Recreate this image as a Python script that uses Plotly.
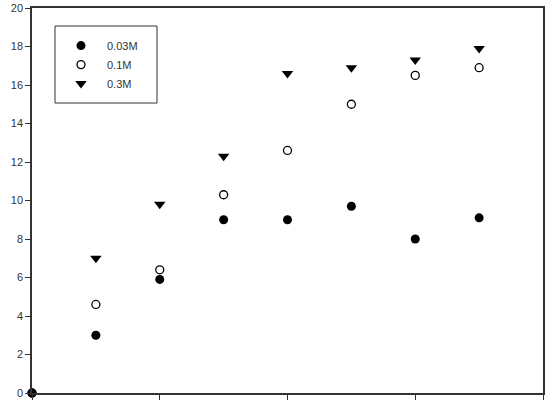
import plotly.graph_objects as go

x_vals = [0, 1, 2, 3, 4, 5, 6, 7]
s003 = [0, 3.0, 5.9, 9.0, 9.0, 9.7, 8.0, 9.1]
s01 = [0, 4.6, 6.4, 10.3, 12.6, 15.0, 16.5, 16.9]
s03 = [0, 7.0, 9.8, 12.3, 16.6, 16.9, 17.3, 17.9]
names = ["0.03M", "0.1M", "0.3M"]
y_ticks = list(range(0, 21, 2))

fig = go.Figure()
fig.add_trace(go.Scatter(x=x_vals, y=s003, mode="markers", name=names[0],
                         marker=dict(symbol="circle", size=9, color="black"), cliponaxis=False))
fig.add_trace(go.Scatter(x=x_vals, y=s01, mode="markers", name=names[1],
                         marker=dict(symbol="circle-open", size=8, color="black", line=dict(width=1.3)), cliponaxis=False))
fig.add_trace(go.Scatter(x=x_vals[1:], y=s03[1:], mode="markers", name=names[2],
                         marker=dict(symbol="triangle-down", size=10, color="black"), cliponaxis=False))

fig.add_shape(type="rect", xref="paper", yref="paper", x0=0.045, x1=0.2446, y0=0.7532, y1=0.9532,
              line=dict(color="#333", width=1), fillcolor="rgba(0,0,0,0)")

fig.update_layout(
    width=551, height=406,
    margin=dict(l=32, r=8, t=8, b=13, autoexpand=False),
    paper_bgcolor="white", plot_bgcolor="white",
    font=dict(family="Liberation Sans, Arial, sans-serif", size=11, color="#333"),
    showlegend=True,
    legend=dict(x=0.045, y=0.940, xanchor="left", yanchor="top",
                borderwidth=0, bgcolor="rgba(0,0,0,0)", itemwidth=42,
                font=dict(size=11, color="#333"), tracegroupgap=0),
)
fig.update_xaxes(range=[0, 8], tickvals=[0, 2, 4, 6, 8], showticklabels=False,
                 ticks="outside", ticklen=5, tickcolor="#333",
                 showline=True, linecolor="#333", linewidth=1.5, mirror=True,
                 showgrid=False, zeroline=False)
fig.update_yaxes(range=[0, 20], tickvals=y_ticks, ticks="outside", ticklen=5, tickcolor="#333",
                 showline=True, linecolor="#333", linewidth=1.5, mirror=True,
                 showgrid=False, zeroline=False, tickfont=dict(size=11, color="#333"))

fig.write_html("out.html")
